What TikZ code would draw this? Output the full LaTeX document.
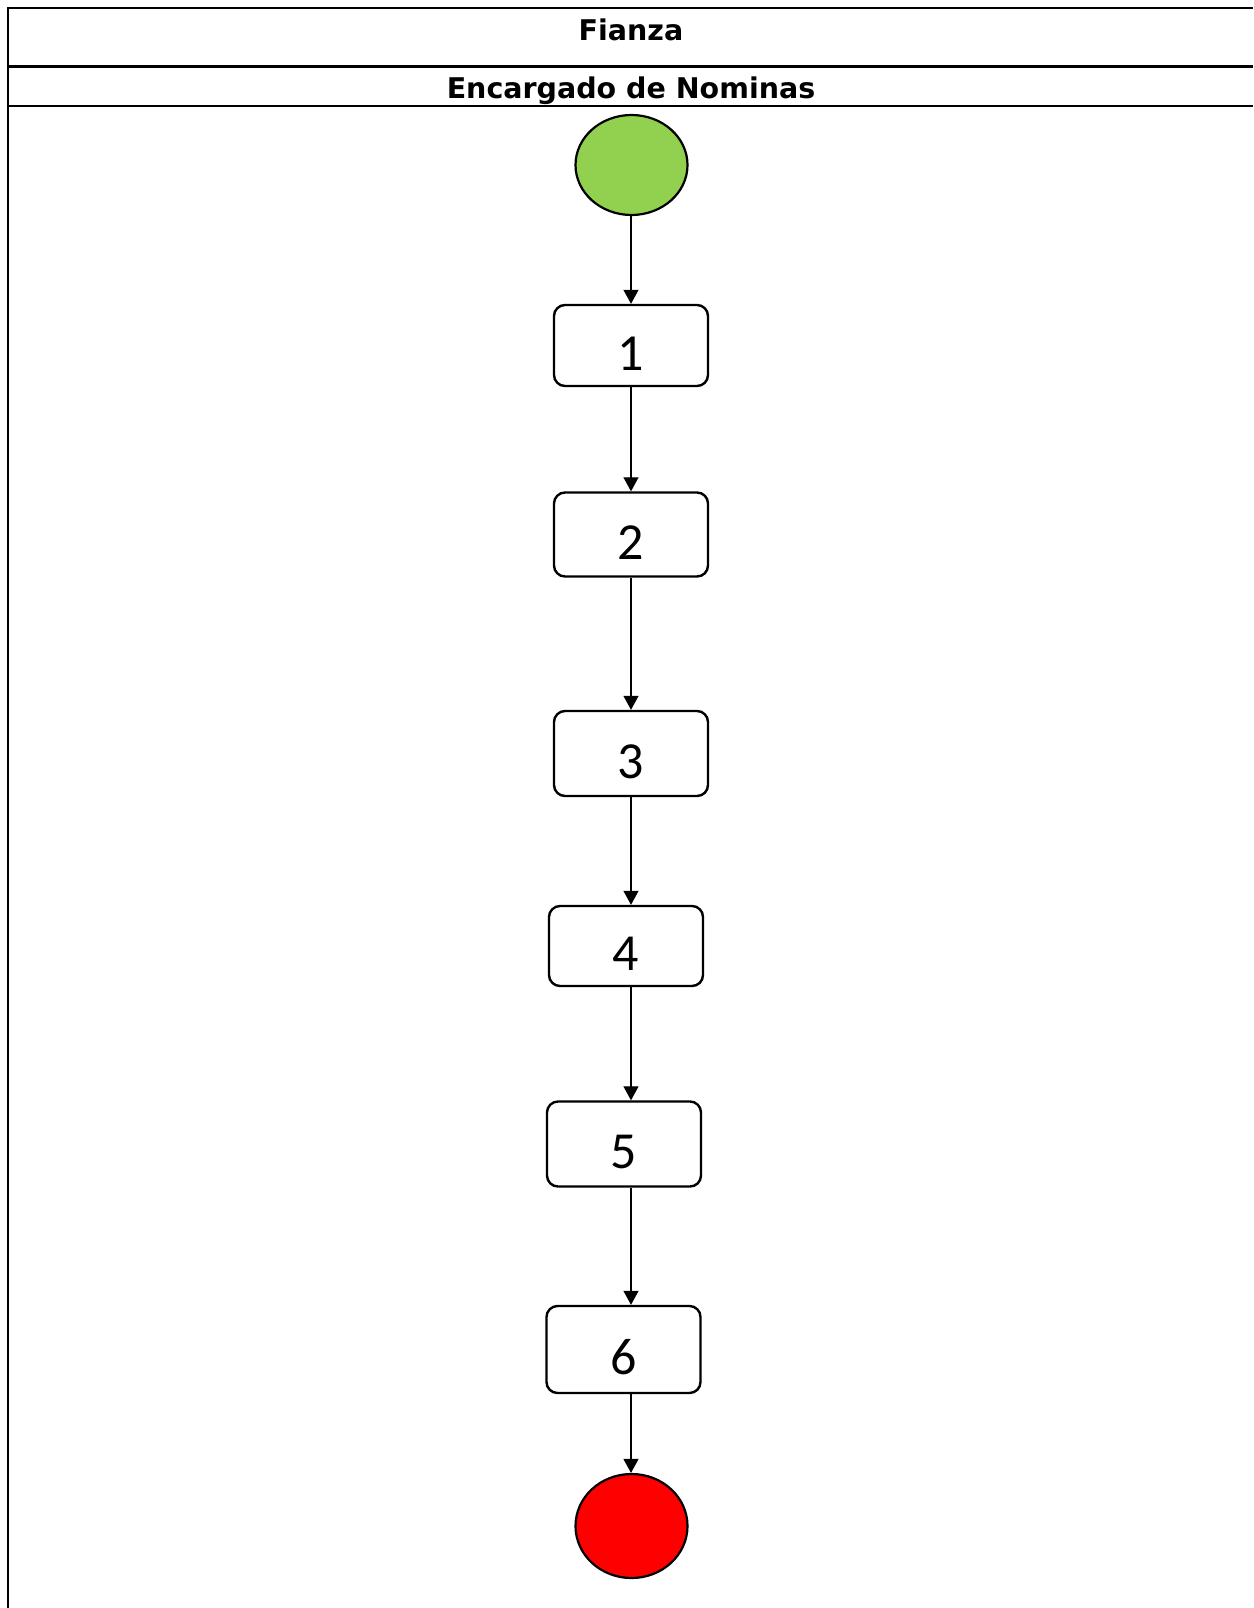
\documentclass[tikz,border=0pt]{standalone}
\usepackage{fontspec}
\setmainfont{Carlito}
\newfontfamily\headfont{DejaVu Sans}
\usetikzlibrary{arrows.meta,shapes.geometric}
\definecolor{startgreen}{HTML}{92D050}
\definecolor{endred}{HTML}{FF0000}
\tikzset{
  frameline/.style={line width=2.3pt},
  stepbox/.style={draw, line width=2.4pt, rounded corners=11pt, minimum width=154pt,
    inner sep=0pt, text height=49pt, text depth=0pt,
    font=\fontsize{52}{52}\selectfont},
  startnode/.style={draw, line width=2.2pt, ellipse, fill=startgreen, minimum width=112pt, minimum height=100pt, inner sep=0pt},
  endnode/.style={draw, line width=2.2pt, ellipse, fill=endred, minimum width=112pt, minimum height=104pt, inner sep=0pt},
  flow/.style={line width=1.3pt, -{Triangle[width=15pt,length=14pt]}},
  header/.style={anchor=base, inner sep=0pt, font=\headfont\bfseries\fontsize{28.5}{28.5}\selectfont}
}
\begin{document}
\begin{tikzpicture}[x=1pt,y=-1pt]
\useasboundingbox (0,0) rectangle (1253,1608);
\fill[white] (0,0) rectangle (1253,1608);
% frame
\draw[frameline] (1253,8) -- (8,8) -- (8,1608);
\draw[frameline] (8,66.5) -- (1253,66.5);
\draw[frameline] (8,106) -- (1253,106);
\node[header] (pool) at (631,40.7) {Fianza};
\node[header] (lane) at (631,98.3) {Encargado de Nominas};
% nodes
\node[startnode] (start) at (631.5,165) {};
\node[stepbox, minimum height=81pt] (s1) at (631,345.5) {1};
\node[stepbox, minimum height=84pt] (s2) at (631,534.5) {2};
\node[stepbox, minimum height=85pt] (s3) at (631,753.5) {3};
\node[stepbox, minimum height=80pt] (s4) at (626,946) {4};
\node[stepbox, minimum height=85pt] (s5) at (624,1144) {5};
\node[stepbox, minimum height=87pt] (s6) at (623.5,1349.5) {6};
\node[endnode] (end) at (631.5,1526) {};
% connectors
\coordinate (x) at (631,0);
\draw[flow] (x |- start.south) -- (x |- s1.north);
\draw[flow] (x |- s1.south) -- (x |- s2.north);
\draw[flow] (x |- s2.south) -- (x |- s3.north);
\draw[flow] (x |- s3.south) -- (x |- s4.north);
\draw[flow] (x |- s4.south) -- (x |- s5.north);
\draw[flow] (x |- s5.south) -- (x |- s6.north);
\draw[flow] (x |- s6.south) -- (x |- end.north);
\end{tikzpicture}
\end{document}
